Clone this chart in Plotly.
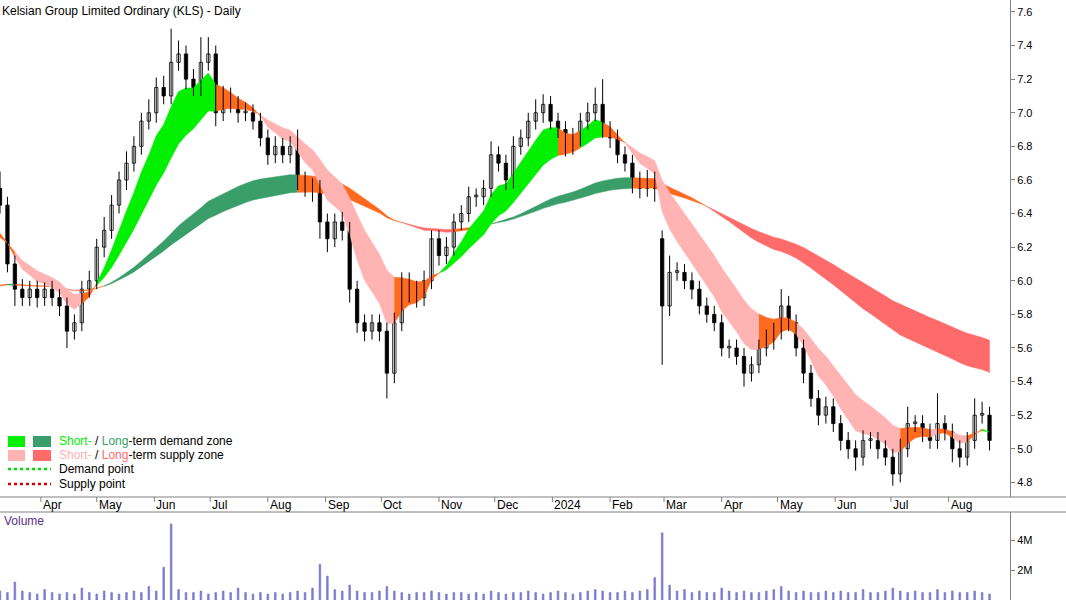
import pandas as pd
import plotly.graph_objects as go

start_date = "2023-03-10"
closes = [6.45, 6.1, 5.95, 5.9, 5.95, 5.9, 5.95, 5.9, 5.85, 5.7,
          5.75, 5.95, 6.0, 6.2, 6.3, 6.45, 6.6, 6.7, 6.8, 6.95,
          7.0, 7.15, 7.1, 7.3, 7.35, 7.2, 7.15, 7.3, 7.35, 7.0,
          7.1, 7.05, 7.0, 7.0, 6.95, 6.85, 6.75, 6.8, 6.75, 6.8,
          6.6, 6.55, 6.55, 6.35, 6.25, 6.35, 6.3, 5.95, 5.75, 5.7,
          5.75, 5.7, 5.45, 5.75, 6.0, 5.95, 5.9, 6.0, 6.25, 6.15,
          6.2, 6.35, 6.4, 6.5, 6.5, 6.55, 6.75, 6.7, 6.6, 6.8,
          6.85, 6.95, 7.0, 7.05, 6.95, 6.9, 6.8, 6.85, 6.95, 7.0,
          7.05, 6.9, 6.85, 6.75, 6.7, 6.6, 6.55, 6.6, 6.55, 5.85,
          6.05, 6.05, 6.0, 5.95, 5.85, 5.8, 5.75, 5.6, 5.6, 5.55,
          5.45, 5.5, 5.6, 5.65, 5.7, 5.85, 5.75, 5.6, 5.45, 5.3,
          5.2, 5.25, 5.15, 5.05, 5.0, 4.95, 5.05, 5.05, 5.0, 4.95,
          4.85, 5.0, 5.15, 5.15, 5.1, 5.05, 5.15, 5.1, 5.0, 4.95,
          5.05, 5.2, 5.2, 5.05]
open_overrides = {0: 6.55, 89: 6.25}
wick_up = [0.1, 0.05, 0.05, 0.06, 0.05, 0.05, 0.04, 0.05, 0.05, 0.05,
           0.05, 0.05, 0.06, 0.05, 0.08, 0.06, 0.05, 0.07, 0.06, 0.05,
           0.08, 0.06, 0.07, 0.2, 0.08, 0.05, 0.06, 0.15, 0.1, 0.05,
           0.06, 0.05, 0.05, 0.06, 0.05, 0.05, 0.05, 0.06, 0.05, 0.06,
           0.1, 0.05, 0.06, 0.05, 0.05, 0.05, 0.06, 0.05, 0.05, 0.05,
           0.05, 0.05, 0.05, 0.06, 0.05, 0.05, 0.05, 0.06, 0.05, 0.05,
           0.06, 0.05, 0.05, 0.06, 0.05, 0.05, 0.08, 0.05, 0.05, 0.06,
           0.05, 0.05, 0.08, 0.06, 0.05, 0.05, 0.05, 0.06, 0.05, 0.06,
           0.1, 0.15, 0.05, 0.05, 0.05, 0.05, 0.05, 0.06, 0.05, 0.05,
           0.1, 0.06, 0.05, 0.05, 0.05, 0.05, 0.05, 0.05, 0.05, 0.05,
           0.05, 0.05, 0.05, 0.06, 0.05, 0.1, 0.06, 0.05, 0.05, 0.05,
           0.05, 0.06, 0.05, 0.05, 0.05, 0.05, 0.06, 0.05, 0.05, 0.05,
           0.05, 0.06, 0.1, 0.05, 0.05, 0.05, 0.18, 0.05, 0.05, 0.05,
           0.05, 0.1, 0.08, 0.05]
wick_dn = [0.05, 0.05, 0.1, 0.05, 0.05, 0.06, 0.05, 0.05, 0.06, 0.1,
           0.05, 0.05, 0.05, 0.05, 0.06, 0.05, 0.05, 0.06, 0.05, 0.05,
           0.05, 0.06, 0.05, 0.05, 0.05, 0.06, 0.05, 0.05, 0.05, 0.08,
           0.05, 0.05, 0.06, 0.05, 0.05, 0.05, 0.06, 0.05, 0.05, 0.05,
           0.06, 0.05, 0.08, 0.1, 0.08, 0.05, 0.06, 0.08, 0.06, 0.06,
           0.05, 0.06, 0.15, 0.06, 0.05, 0.08, 0.06, 0.05, 0.05, 0.06,
           0.05, 0.05, 0.05, 0.05, 0.06, 0.05, 0.05, 0.05, 0.06, 0.05,
           0.05, 0.05, 0.05, 0.06, 0.05, 0.05, 0.06, 0.05, 0.05, 0.05,
           0.05, 0.05, 0.06, 0.05, 0.05, 0.08, 0.06, 0.05, 0.08, 0.35,
           0.06, 0.05, 0.05, 0.06, 0.05, 0.05, 0.05, 0.05, 0.06, 0.05,
           0.08, 0.05, 0.05, 0.05, 0.06, 0.05, 0.05, 0.05, 0.06, 0.05,
           0.06, 0.05, 0.05, 0.06, 0.06, 0.08, 0.05, 0.05, 0.06, 0.05,
           0.07, 0.05, 0.05, 0.05, 0.06, 0.05, 0.05, 0.05, 0.08, 0.06,
           0.05, 0.05, 0.05, 0.06]
volumes = [0.6, 0.5, 1.2, 0.6, 0.5, 0.4, 0.7, 0.5, 0.4, 0.5,
           0.4, 0.8, 0.5, 0.4, 0.6, 0.5, 0.4, 0.5, 0.6, 0.5,
           0.9, 0.6, 2.2, 5.1, 0.7, 0.5, 0.5, 0.6, 0.4, 0.5,
           0.6, 0.5, 0.8, 0.5, 0.4, 0.5, 0.4, 0.5, 0.4, 0.5,
           0.6, 0.5, 0.8, 2.4, 1.6, 0.7, 0.6, 1.0, 0.6, 0.5,
           0.5, 0.6, 0.9, 0.6, 0.5, 0.4, 0.5, 0.5, 0.6, 0.5,
           0.4, 0.5, 0.5, 0.4, 0.5, 0.4, 0.6, 0.5, 0.4, 0.5,
           0.5, 0.6, 0.5, 0.4, 0.5, 0.6, 0.5, 0.4, 0.5, 0.6,
           0.7, 0.6, 0.5, 0.5, 0.6, 0.5, 0.6, 0.7, 1.5, 4.5,
           1.0, 0.6, 0.7, 0.5, 0.6, 0.5, 0.5, 0.8, 0.6, 0.5,
           0.6, 0.5, 0.5, 0.6, 0.7, 0.9, 0.6, 0.5, 0.6, 0.5,
           0.5, 0.6, 0.5, 0.6, 0.5, 0.5, 0.7, 0.5, 0.5, 0.6,
           0.8, 0.6, 0.5, 0.6, 0.5, 0.5, 0.7, 0.5, 0.6, 0.5,
           0.5, 0.6, 0.5, 0.4]
month_ticks = ["2023-04-01", "2023-05-01", "2023-06-01", "2023-07-01", "2023-08-01",
               "2023-09-01", "2023-10-01", "2023-11-01", "2023-12-01", "2024-01-01",
               "2024-02-01", "2024-03-01", "2024-04-01", "2024-05-01", "2024-06-01",
               "2024-07-01", "2024-08-01"]
month_labels = ["Apr", "May", "Jun", "Jul", "Aug", "Sep", "Oct", "Nov", "Dec", "2024",
                "Feb", "Mar", "Apr", "May", "Jun", "Jul", "Aug"]
price_ticks = [4.8, 5.0, 5.2, 5.4, 5.6, 5.8, 6.0, 6.2, 6.4, 6.6, 6.8, 7.0, 7.2, 7.4, 7.6]
band_spans = {"short_fast": 6, "short_slow": 14, "long_fast": 50, "long_slow": 75}
warm_level = 5.95

dates = pd.date_range(start_date, periods=len(closes), freq="4D")
opens = [open_overrides.get(i, closes[i - 1] if i > 0 else closes[0]) for i in range(len(closes))]
highs = [max(o, cl) + w for o, cl, w in zip(opens, closes, wick_up)]
lows = [min(o, cl) - w for o, cl, w in zip(opens, closes, wick_dn)]

GREEN_S, GREEN_L = "#00f000", "#3a9e6a"
RED_S, RED_L = "#ffb3b3", "#ff6b6b"
ORANGE = "#ff6a1f"

fig = go.Figure()

def add_band(fast, slow, up_col, dn_col):
    fast = list(fast); slow = list(slow)
    cols = []
    for i in range(len(fast)):
        slope = fast[i] - fast[i - 1] if i > 0 else 0
        if fast[i] >= slow[i] and slope > 0:
            cols.append(up_col)
        elif fast[i] < slow[i] and slope < 0:
            cols.append(dn_col)
        else:
            cols.append(ORANGE)
    i = 0
    n = len(fast)
    while i < n:
        j = i
        while j + 1 < n and cols[j + 1] == cols[i]:
            j += 1
        b = min(j + 1, n - 1)
        xs = list(dates[i:b + 1]) + list(dates[i:b + 1])[::-1]
        ys = fast[i:b + 1] + slow[i:b + 1][::-1]
        fig.add_trace(go.Scatter(x=xs, y=ys, fill="toself", fillcolor=cols[i], mode="lines",
                                 line=dict(width=0.5, color=cols[i]), hoverinfo="skip",
                                 showlegend=False, yaxis="y"))
        i = j + 1

pad = 40
seed = pd.Series([warm_level] * pad + closes)
add_band(seed.ewm(span=band_spans["long_fast"]).mean()[pad:], seed.ewm(span=band_spans["long_slow"]).mean()[pad:], GREEN_L, RED_L)
seed_s = pd.Series([6.2] * 5 + closes)
add_band(seed_s.ewm(span=band_spans["short_fast"]).mean()[5:], seed_s.ewm(span=band_spans["short_slow"]).mean()[5:], GREEN_S, RED_S)

wx, wy = [], []
for d, h, l in zip(dates, highs, lows):
    wx += [d, d, None]; wy += [h, l, None]
fig.add_trace(go.Scatter(x=wx, y=wy, mode="lines", line=dict(color="black", width=1),
                         hoverinfo="skip", showlegend=False, yaxis="y"))
base = [min(o, cl) for o, cl in zip(opens, closes)]
hgt = [max(abs(cl - o), 0.01) for o, cl in zip(opens, closes)]
fill = ["white" if cl >= o else "black" for o, cl in zip(opens, closes)]
fig.add_trace(go.Bar(x=dates, y=hgt, base=base, width=1.8 * 86400000,
                     marker=dict(color=fill, line=dict(color="black", width=0.8)),
                     showlegend=False, yaxis="y"))
fig.add_trace(go.Bar(x=dates, y=[v * 1e6 for v in volumes], width=0.9 * 86400000,
                     marker=dict(color="#8080d0", line=dict(color="#7070c8", width=0.6)),
                     showlegend=False, xaxis="x2", yaxis="y2"))

x0 = pd.Timestamp(start_date)
x1 = x0 + pd.Timedelta(days=543)

anns = [dict(xref="paper", yref="paper", x=0.0, y=1.0, xanchor="left", yanchor="top",
             text="Kelsian Group Limited Ordinary (KLS) - Daily", showarrow=False,
             font=dict(size=12, color="black"), yshift=-2),
        dict(xref="paper", yref="paper", x=0.0, y=0.147, xanchor="left", yanchor="top",
             text="Volume", showarrow=False, font=dict(size=12, color="#5a2d8c"), xshift=2)]
for t, lab in zip(month_ticks, month_labels):
    anns.append(dict(xref="x", yref="paper", x=t, y=(600 - 505) / 600, xanchor="left",
                     yanchor="middle", text=lab, showarrow=False,
                     font=dict(size=12, color="black")))

W = 1010.0
def px(x):
    return x / W
def py(y):
    return 1 - y / 600.0

shapes = []
for (xa, xb, ya, yb, col) in [(8, 25, 436, 447, GREEN_S), (33, 51, 436, 447, GREEN_L),
                              (8, 25, 450, 461, RED_S), (33, 51, 450, 461, RED_L)]:
    shapes.append(dict(type="rect", xref="paper", yref="paper", x0=px(xa), x1=px(xb),
                       y0=py(yb), y1=py(ya), fillcolor=col, line=dict(width=0)))
shapes.append(dict(type="line", xref="paper", yref="paper", x0=px(8), x1=px(51), y0=py(469), y1=py(469),
                   line=dict(color="#00dd00", width=2.5, dash="dot")))
shapes.append(dict(type="line", xref="paper", yref="paper", x0=px(8), x1=px(51), y0=py(484), y1=py(484),
                   line=dict(color="#dd0000", width=2.5, dash="dot")))
for yy in [497, 512]:
    shapes.append(dict(type="line", xref="paper", yref="paper", x0=0, x1=1066 / W, y0=py(yy), y1=py(yy),
                       line=dict(color="#808080", width=1)))
for t in month_ticks:
    shapes.append(dict(type="line", xref="x", yref="paper", x0=t, x1=t, y0=py(497), y1=py(502),
                       line=dict(color="#808080", width=1)))

legend_rows = [(441, f"<span style='color:{GREEN_S}'>Short-</span> / <span style='color:{GREEN_L}'>Long</span>-term demand zone"),
               (455, f"<span style='color:{RED_S}'>Short-</span> / <span style='color:{RED_L}'>Long</span>-term supply zone"),
               (469, "Demand point"), (484, "Supply point")]
for yy, txt in legend_rows:
    anns.append(dict(xref="paper", yref="paper", x=px(57), y=py(yy), xanchor="left", yanchor="middle",
                     text=txt, showarrow=False, font=dict(size=12, color="black")))

fig.update_layout(
    width=1066, height=600, margin=dict(l=0, r=56, t=0, b=0),
    paper_bgcolor="white", plot_bgcolor="white", barmode="overlay",
    font=dict(family="Liberation Sans, Arial", size=12, color="black"),
    xaxis=dict(range=[x0, x1], showticklabels=False, showgrid=False, zeroline=False,
               domain=[0, 1], anchor="y"),
    xaxis2=dict(range=[x0, x1], showticklabels=False, showgrid=False, zeroline=False,
                domain=[0, 1], anchor="y2", matches="x"),
    yaxis=dict(domain=[(600 - 497) / 600, 1], range=[4.713, 7.671], side="right",
               tickvals=price_ticks, ticktext=[f"{v:.1f}" for v in price_ticks],
               showgrid=False, zeroline=False, showline=True, linecolor="#808080",
               ticks="outside", ticklen=4, tickcolor="#808080", tickfont=dict(size=11)),
    yaxis2=dict(domain=[0, (600 - 512) / 600], range=[0, 5.9e6], side="right",
                tickvals=[2e6, 4e6], ticktext=["2M", "4M"], showgrid=False, zeroline=False,
                showline=True, linecolor="#808080", ticks="outside", ticklen=4,
                tickcolor="#808080", tickfont=dict(size=11)),
    annotations=anns, shapes=shapes,
)
fig.write_html("out.html", config={"displayModeBar": False},
               post_script="document.body.style.margin='0';document.body.style.overflow='hidden';")
